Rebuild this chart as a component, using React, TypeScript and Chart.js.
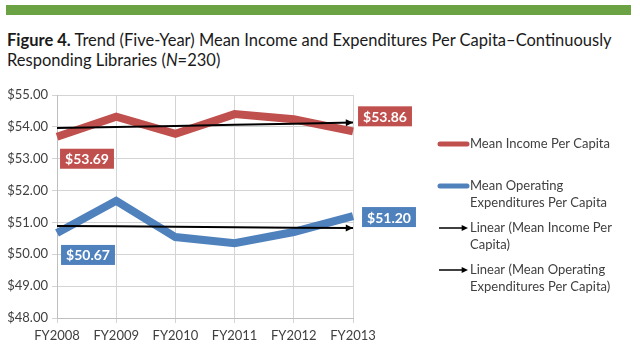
import React, { useEffect, useRef } from 'react';
import { Chart, registerables } from 'chart.js';
Chart.register(...registerables);

const years = ['FY2008', 'FY2009', 'FY2010', 'FY2011', 'FY2012', 'FY2013'];
const incomePerCapita = [53.69, 54.32, 53.78, 54.4, 54.24, 53.86];
const expendituresPerCapita = [50.67, 51.68, 50.54, 50.35, 50.7, 51.2];
const yMin = 48;
const yMax = 55;
const yStep = 1;
const seriesNames = ['Mean Income Per Capita', 'Mean Operating Expenditures Per Capita'];
const trendNames = ['Linear (Mean Income Per Capita)', 'Linear (Mean Operating Expenditures Per Capita)'];
const titleBold = 'Figure 4.';
const titleRest = ' Trend (Five-Year) Mean Income and Expenditures Per Capita–Continuously Responding Libraries (';
const titleN = 'N';
const titleEnd = '=230)';

const RED = '#c0504d';
const BLUE = '#4f81bd';
const FONT = 'Lato, "Open Sans", sans-serif';

function linearTrend(v: number[]): number[] {
  const n = v.length;
  const mx = (n - 1) / 2;
  const my = v.reduce((a, b) => a + b, 0) / n;
  let num = 0;
  let den = 0;
  v.forEach((y, i) => {
    num += (i - mx) * (y - my);
    den += (i - mx) * (i - mx);
  });
  const slope = num / den;
  return v.map((_, i) => my + slope * (i - mx));
}

const money = (v: number) => '$' + v.toFixed(2);

function drawArrowHead(ctx: CanvasRenderingContext2D, x0: number, y0: number, x1: number, y1: number, size: number) {
  const ang = Math.atan2(y1 - y0, x1 - x0);
  ctx.beginPath();
  ctx.moveTo(x1, y1);
  ctx.lineTo(x1 - size * Math.cos(ang - 0.45), y1 - size * Math.sin(ang - 0.45));
  ctx.lineTo(x1 - size * Math.cos(ang + 0.45), y1 - size * Math.sin(ang + 0.45));
  ctx.closePath();
  ctx.fill();
}

function wrap(ctx: CanvasRenderingContext2D, text: string, maxW: number): string[] {
  const words = text.split(' ');
  const lines: string[] = [];
  let cur = '';
  for (const w of words) {
    const t = cur ? cur + ' ' + w : w;
    if (ctx.measureText(t).width > maxW && cur) {
      lines.push(cur);
      cur = w;
    } else cur = t;
  }
  if (cur) lines.push(cur);
  return lines;
}

const decoPlugin = {
  id: 'deco',
  afterDatasetsDraw(chart: any) {
    const ctx: CanvasRenderingContext2D = chart.ctx;
    ctx.save();
    // arrowheads on trend lines
    [2, 3].forEach((di) => {
      const pts = chart.getDatasetMeta(di).data;
      const a = pts[pts.length - 2];
      const b = pts[pts.length - 1];
      ctx.fillStyle = '#000';
      drawArrowHead(ctx, a.x, a.y, b.x, b.y, 8);
    });
    // data labels for first & last points
    const labels: { di: number; idx: number; dx: number; dy: number; color: string }[] = [
      { di: 0, idx: 0, dx: 30, dy: 22, color: RED },
      { di: 0, idx: 5, dx: 32, dy: -15, color: RED },
      { di: 1, idx: 0, dx: 31, dy: 22, color: BLUE },
      { di: 1, idx: 5, dx: 36, dy: 1, color: BLUE },
    ];
    ctx.font = 'bold 14px ' + FONT;
    ctx.textAlign = 'center';
    ctx.textBaseline = 'middle';
    labels.forEach((l) => {
      const p = chart.getDatasetMeta(l.di).data[l.idx];
      const val = chart.data.datasets[l.di].data[l.idx];
      const txt = money(val);
      const w = ctx.measureText(txt).width + 10;
      const h = 20;
      const cx = p.x + l.dx;
      const cy = p.y + l.dy;
      ctx.fillStyle = l.color;
      ctx.fillRect(cx - w / 2, cy - h / 2, w, h);
      ctx.fillStyle = '#fff';
      ctx.fillText(txt, cx, cy + 1);
    });
    // legend
    const items = [
      { name: seriesNames[0], kind: 'line', color: RED },
      { name: seriesNames[1], kind: 'line', color: BLUE },
      { name: trendNames[0], kind: 'arrow', color: '#000' },
      { name: trendNames[1], kind: 'arrow', color: '#000' },
    ];
    ctx.font = '13px ' + FONT;
    ctx.textAlign = 'left';
    ctx.textBaseline = 'middle';
    const ys = [144, 186, 228, 270];
    items.forEach((it, i) => {
      const y = ys[i];
      if (it.kind === 'line') {
        ctx.strokeStyle = it.color;
        ctx.lineWidth = 5;
        ctx.lineCap = 'round';
        ctx.beginPath();
        ctx.moveTo(440, y);
        ctx.lineTo(467, y);
        ctx.stroke();
      } else {
        ctx.strokeStyle = '#000';
        ctx.fillStyle = '#000';
        ctx.lineWidth = 1.5;
        ctx.lineCap = 'butt';
        ctx.beginPath();
        ctx.moveTo(439, y);
        ctx.lineTo(462, y);
        ctx.stroke();
        drawArrowHead(ctx, 439, y, 468, y, 7);
      }
      ctx.fillStyle = '#404040';
      const lines = wrap(ctx, it.name, 148);
      lines.forEach((ln, k) => ctx.fillText(ln, 470, y + k * 17));
    });
    ctx.restore();
  },
};

export default function App() {
  const ref = useRef<HTMLCanvasElement>(null);
  useEffect(() => {
    document.body.style.margin = '0';
    const chart = new Chart(ref.current as HTMLCanvasElement, {
      type: 'line',
      data: {
        labels: years,
        datasets: [
          { label: seriesNames[0], data: incomePerCapita, borderColor: RED, borderWidth: 8, pointRadius: 0, tension: 0, order: 2 },
          { label: seriesNames[1], data: expendituresPerCapita, borderColor: BLUE, borderWidth: 8, pointRadius: 0, tension: 0, order: 2 },
          { label: trendNames[0], data: linearTrend(incomePerCapita), borderColor: '#000', borderWidth: 2, pointRadius: 0, order: 1 },
          { label: trendNames[1], data: linearTrend(expendituresPerCapita), borderColor: '#000', borderWidth: 2, pointRadius: 0, order: 1 },
        ],
      },
      options: {
        responsive: false,
        animation: false,
        devicePixelRatio: 1,
        layout: { padding: { left: 0, right: 287, top: 95, bottom: 0 } },
        plugins: { legend: { display: false }, tooltip: { enabled: false }, title: { display: false } },
        scales: {
          x: {
            offset: false,
            grid: { color: '#d4d4d4', lineWidth: 1, tickLength: 5 },
            border: { color: '#bfbfbf' },
            ticks: { color: '#404040', font: { family: FONT, size: 13 }, padding: 5, maxRotation: 0 },
            afterFit: (s: any) => { s.height = 30; },
          },
          y: {
            min: yMin,
            max: yMax,
            grid: { color: '#d4d4d4', lineWidth: 1, tickLength: 5 },
            border: { color: '#bfbfbf' },
            ticks: { stepSize: yStep, color: '#404040', font: { family: FONT, size: 13 }, padding: 4, callback: (v: any) => money(Number(v)) },
            afterFit: (s: any) => { s.width = 57; },
          },
        },
      },
      plugins: [decoPlugin],
    });
    return () => chart.destroy();
  }, []);
  return (
    <div style={{ position: 'relative', width: 640, height: 348, background: '#fff', overflow: 'hidden' }}>
      <div style={{ position: 'absolute', left: 6, top: 5, width: 625, height: 10, background: '#6aa244' }} />
      <div style={{ position: 'absolute', left: 7, top: 31, width: 620, fontFamily: FONT, fontSize: 16.5, lineHeight: '19.5px', color: '#1a1a1a' }}>
        <b>{titleBold}</b>{titleRest}<i>{titleN}</i>{titleEnd}
      </div>
      <canvas ref={ref} width={640} height={348} style={{ position: 'absolute', left: 0, top: 0 }} />
    </div>
  );
}
